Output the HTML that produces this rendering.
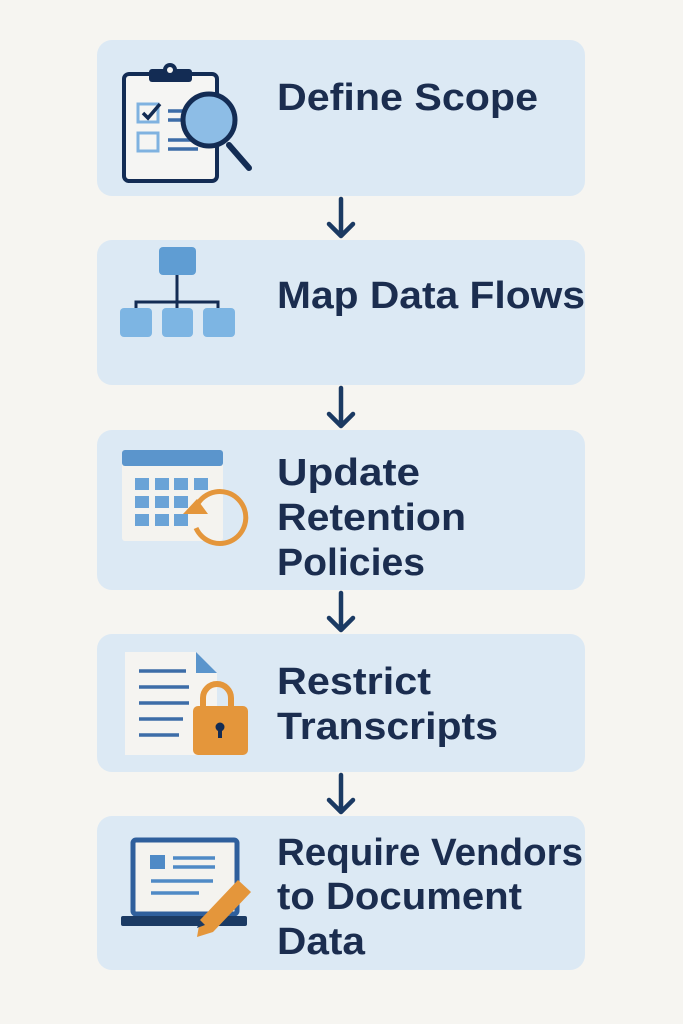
<!DOCTYPE html>
<html><head><meta charset="utf-8"><style>
html,body{margin:0;padding:0;background:#f6f5f1;}
svg{display:block}
text{font-family:"Liberation Sans",sans-serif;font-weight:bold;font-size:38px;fill:#1b2d4f}
</style></head><body>
<svg width="683" height="1024" viewBox="0 0 683 1024" xmlns="http://www.w3.org/2000/svg">
<rect width="683" height="1024" fill="#f6f5f1"/>
<g fill="#dce9f4">
<rect x="97" y="40" width="488" height="156" rx="15"/>
<rect x="97" y="240" width="488" height="145" rx="15"/>
<rect x="97" y="430" width="488" height="160" rx="15"/>
<rect x="97" y="634" width="488" height="138" rx="15"/>
<rect x="97" y="816" width="488" height="154" rx="15"/>
</g>
<!-- arrows -->
<g stroke="#1b3a63" stroke-width="4.5" fill="none" stroke-linecap="round" stroke-linejoin="round">
<path d="M341 199v36M329 224l12 12 12-12"/>
<path d="M341 388v37M329 414l12 12 12-12"/>
<path d="M341 593v36M329 618l12 12 12-12"/>
<path d="M341 775v36M329 800l12 12 12-12"/>
</g>
<!-- icon1 clipboard -->
<rect x="124" y="74" width="93" height="107" rx="5" fill="#f5f5f3" stroke="#132c54" stroke-width="4"/>
<rect x="149" y="69" width="43" height="13" rx="3" fill="#132c54"/>
<circle cx="170" cy="70" r="7" fill="#132c54"/><circle cx="170" cy="70" r="3" fill="#f5f5f3"/>
<rect x="138" y="104" width="20" height="18" fill="none" stroke="#7fb2e0" stroke-width="3"/>
<path d="M143 113l5 5 12-14" stroke="#132c54" stroke-width="3.5" fill="none"/>
<rect x="138" y="133" width="20" height="18" fill="none" stroke="#7fb2e0" stroke-width="3"/>
<g stroke="#3d6da8" stroke-width="3.5"><path d="M168 111h30M168 120h30M168 140h30M168 149h30"/></g>
<path d="M229 145l20 23" stroke="#132c54" stroke-width="6" stroke-linecap="round"/>
<circle cx="209" cy="120" r="26" fill="#8dbde6" stroke="#132c54" stroke-width="5"/>
<!-- icon2 hierarchy -->
<rect x="159" y="247" width="37" height="28" rx="4" fill="#5f9dd3"/>
<path d="M177 275v44M136 319v-17h82v17" stroke="#132c54" stroke-width="3" fill="none"/>
<rect x="120" y="308" width="32" height="29" rx="4" fill="#7db5e3"/>
<rect x="162" y="308" width="31" height="29" rx="4" fill="#7db5e3"/>
<rect x="203" y="308" width="32" height="29" rx="4" fill="#7db5e3"/>
<!-- icon3 calendar -->
<rect x="122" y="450" width="101" height="91" rx="3" fill="#f4f3ef"/>
<rect x="122" y="450" width="101" height="16" rx="3" fill="#5b95cc"/>
<g fill="#6aa3d7">
<rect x="135" y="478" width="14" height="12"/><rect x="155" y="478" width="14" height="12"/><rect x="174" y="478" width="14" height="12"/><rect x="194" y="478" width="14" height="12"/>
<rect x="135" y="496" width="14" height="12"/><rect x="155" y="496" width="14" height="12"/><rect x="174" y="496" width="14" height="12"/>
<rect x="135" y="514" width="14" height="12"/><rect x="155" y="514" width="14" height="12"/><rect x="174" y="514" width="14" height="12"/>
</g>
<path d="M197 505 A26 26 0 1 1 196 528" stroke="#e4963b" stroke-width="5" fill="none" transform="translate(0,0)"/>
<path d="M183 514l14-15 11 15z" fill="#e4963b"/>
<!-- icon4 doc + lock -->
<path d="M125 652h71l21 21v82h-92z" fill="#f5f4f1"/>
<path d="M196 652v21h21z" fill="#5b95cc"/>
<g stroke="#3d6da8" stroke-width="3.5"><path d="M139 671h47M139 687h50M139 703h50M139 719h44M139 735h40"/></g>
<path d="M203 707v-9a14 14 0 0 1 28 0v9" stroke="#e4963b" stroke-width="6" fill="none"/>
<rect x="193" y="706" width="55" height="49" rx="5" fill="#e4963b"/>
<circle cx="220" cy="727" r="4.5" fill="#132c54"/><rect x="218" y="728" width="4" height="10" fill="#132c54"/>
<!-- icon5 laptop -->
<rect x="133" y="840" width="104" height="74" rx="3" fill="#f4f3ef" stroke="#2f5f9c" stroke-width="5"/>
<rect x="150" y="855" width="15" height="14" fill="#4f8ac6"/>
<g stroke="#4f8ac6" stroke-width="3.5"><path d="M173 858h42M173 867h42M151 881h62M151 893h48"/></g>
<rect x="121" y="916" width="126" height="10" rx="2" fill="#1b3a63"/>
<path d="M200 920l38-40 13 12-38 40-16 5z" fill="#e4963b"/>
<path d="M200 920l-3 8 8-3z" fill="#1b3a63"/>
<!-- text -->
<text x="277" y="110" textLength="261" lengthAdjust="spacingAndGlyphs">Define Scope</text>
<text x="277" y="308" textLength="308" lengthAdjust="spacingAndGlyphs">Map Data Flows</text>
<text x="277" y="485" textLength="143" lengthAdjust="spacingAndGlyphs">Update</text>
<text x="277" y="530" textLength="189" lengthAdjust="spacingAndGlyphs">Retention</text>
<text x="277" y="575" textLength="148" lengthAdjust="spacingAndGlyphs">Policies</text>
<text x="277" y="694" textLength="154" lengthAdjust="spacingAndGlyphs">Restrict</text>
<text x="277" y="739" textLength="221" lengthAdjust="spacingAndGlyphs">Transcripts</text>
<text x="277" y="865" textLength="306" lengthAdjust="spacingAndGlyphs">Require Vendors</text>
<text x="277" y="909" textLength="245" lengthAdjust="spacingAndGlyphs">to Document</text>
<text x="277" y="954" textLength="88" lengthAdjust="spacingAndGlyphs">Data</text>
</svg>
</body></html>
